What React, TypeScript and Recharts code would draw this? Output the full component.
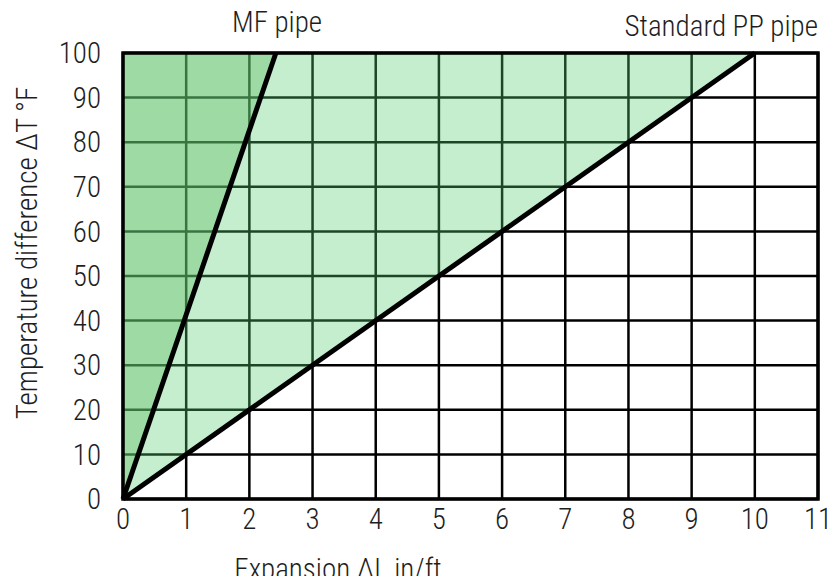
import { ComposedChart, Area, Line, XAxis, YAxis, CartesianGrid, ReferenceArea } from "recharts"

const xTicks = [0, 1, 2, 3, 4, 5, 6, 7, 8, 9, 10, 11]
const yTicks = [0, 10, 20, 30, 40, 50, 60, 70, 80, 90, 100]

// expansion (in/ft) at which each pipe line is read
const expansion = [0, 2.42, 10]
const standardPP = [0, null, 100]
const mfPipe = [0, 100, null]

const FONT = "'Roboto Condensed', 'Liberation Sans Narrow', 'DejaVu Sans Condensed', sans-serif"
const TEXT = "#1e1e1e"

const data = expansion.map((x, i) => ({
  x,
  pp: standardPP[i],
  mf: mfPipe[i],
  ppBand: standardPP[i] == null ? null : [standardPP[i], 100],
  mfBand: mfPipe[i] == null ? null : [mfPipe[i], 100],
}))

function Caption({ x, y, text, rotate = 0, anchor = "center" }: { x: number; y: number; text: string; rotate?: number; anchor?: string }) {
  const tx = anchor === "right" ? "-100%" : "-50%"
  return (
    <div
      style={{
        position: "absolute",
        left: x,
        top: y,
        transform: `translate(${tx}, -50%) rotate(${rotate}deg)`,
        whiteSpace: "nowrap",
        fontFamily: FONT,
        fontWeight: 300,
        fontSize: 29,
        lineHeight: 1,
        color: TEXT,
      }}
    >
      {text}
    </div>
  )
}

export default function App() {
  return (
    <div style={{ position: "relative", width: 835, height: 584, margin: -8, background: "#fff", overflow: "hidden" }}>
      <ComposedChart
        width={835}
        height={584}
        data={data}
        margin={{ top: 53, right: 17, bottom: 0, left: 0 }}
      >
        <CartesianGrid stroke="#000" strokeWidth={2.5} />
        <XAxis
          type="number"
          dataKey="x"
          domain={[0, 11]}
          ticks={xTicks}
          height={85}
          axisLine={false}
          tickLine={false}
          tickMargin={3}
          tick={{ fill: TEXT, fontSize: 29, fontFamily: FONT, fontWeight: 300 }}
        />
        <YAxis
          type="number"
          domain={[0, 100]}
          ticks={yTicks}
          width={123}
          axisLine={false}
          tickLine={false}
          tickMargin={16}
          tick={{ fill: TEXT, fontSize: 29, fontFamily: FONT, fontWeight: 300 }}
        />
        <Area
          type="linear"
          dataKey="ppBand"
          stroke="none"
          fill="#56cd6f"
          fillOpacity={0.34}
          connectNulls
          isAnimationActive={false}
        />
        <Area
          type="linear"
          dataKey="mfBand"
          stroke="none"
          fill="#65bb67"
          fillOpacity={0.4}
          connectNulls
          isAnimationActive={false}
        />
        <Line type="linear" dataKey="pp" stroke="#000" strokeWidth={5} dot={false} connectNulls isAnimationActive={false} />
        <Line type="linear" dataKey="mf" stroke="#000" strokeWidth={5} dot={false} connectNulls isAnimationActive={false} />
        <ReferenceArea x1={0} x2={11} y1={0} y2={100} fill="none" stroke="#000" strokeWidth={3.5} />
      </ComposedChart>
      <Caption x={277} y={22} text="MF pipe" />
      <Caption x={818} y={26} text="Standard PP pipe" anchor="right" />
      <Caption x={27} y={253} text="Temperature difference ΔT °F" rotate={-90} />
      <Caption x={338} y={569} text="Expansion ΔL in/ft" />
    </div>
  )
}
